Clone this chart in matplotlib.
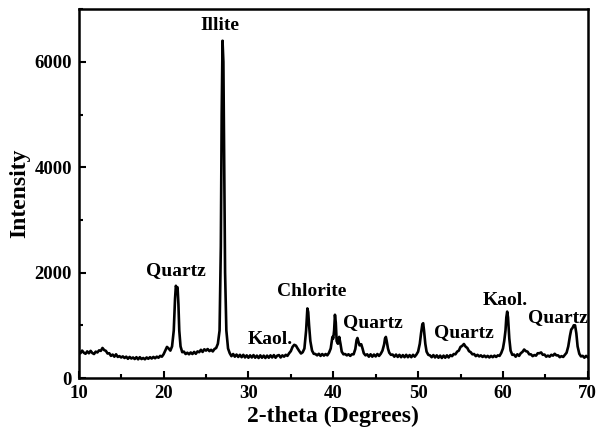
import matplotlib
matplotlib.use("Agg")
import matplotlib.pyplot as plt
from matplotlib.ticker import MultipleLocator

two_theta = [
    10.0, 10.2, 10.4, 10.6, 10.8, 11.0, 11.2, 11.4, 11.6, 11.8, 12.0, 12.2, 12.4, 12.6, 12.8, 13.0,
    13.2, 13.4, 13.6, 13.8, 14.0, 14.2, 14.4, 14.6, 14.8, 15.0, 15.2, 15.4, 15.6, 15.8, 16.0, 16.2,
    16.4, 16.6, 16.8, 17.0, 17.2, 17.4, 17.6, 17.8, 18.0, 18.2, 18.4, 18.6, 18.8, 19.0, 19.2, 19.4,
    19.6, 19.8, 20.0, 20.2, 20.4, 20.6, 20.8, 21.0, 21.2, 21.35, 21.45, 21.55, 21.65, 21.75, 21.85,
    22.0, 22.2, 22.4, 22.6, 22.8, 23.0, 23.2, 23.4, 23.6, 23.8, 24.0, 24.2, 24.4, 24.6, 24.8, 25.0,
    25.2, 25.4, 25.6, 25.8, 26.0, 26.2, 26.4, 26.6, 26.75, 26.85, 26.95, 27.05, 27.15, 27.25, 27.4,
    27.6, 27.8, 28.0, 28.2, 28.4, 28.6, 28.8, 29.0, 29.2, 29.4, 29.6, 29.8, 30.0, 30.2, 30.4, 30.6,
    30.8, 31.0, 31.2, 31.4, 31.6, 31.8, 32.0, 32.2, 32.4, 32.6, 32.8, 33.0, 33.2, 33.4, 33.6, 33.8,
    34.0, 34.2, 34.4, 34.6, 34.8, 35.0, 35.2, 35.4, 35.6, 35.8, 36.0, 36.2, 36.4, 36.6, 36.8, 36.95,
    37.05, 37.15, 37.3, 37.5, 37.7, 37.9, 38.1, 38.3, 38.5, 38.7, 38.9, 39.1, 39.3, 39.5, 39.7, 39.9,
    40.0, 40.1, 40.2, 40.3, 40.4, 40.55, 40.7, 40.85, 41.0, 41.2, 41.4, 41.6, 41.8, 42.0, 42.2, 42.4,
    42.6, 42.75, 42.85, 42.95, 43.1, 43.3, 43.45, 43.6, 43.8, 44.0, 44.2, 44.4, 44.6, 44.8, 45.0,
    45.2, 45.4, 45.6, 45.8, 46.0, 46.1, 46.2, 46.3, 46.45, 46.6, 46.8, 47.0, 47.2, 47.4, 47.6, 47.8,
    48.0, 48.2, 48.4, 48.6, 48.8, 49.0, 49.2, 49.4, 49.6, 49.8, 50.0, 50.2, 50.35, 50.5, 50.6, 50.7,
    50.85, 51.0, 51.2, 51.4, 51.6, 51.8, 52.0, 52.2, 52.4, 52.6, 52.8, 53.0, 53.2, 53.4, 53.6, 53.8,
    54.0, 54.2, 54.4, 54.6, 54.8, 55.0, 55.2, 55.4, 55.6, 55.8, 56.0, 56.2, 56.4, 56.6, 56.8, 57.0,
    57.2, 57.4, 57.6, 57.8, 58.0, 58.2, 58.4, 58.6, 58.8, 59.0, 59.2, 59.4, 59.6, 59.8, 60.0, 60.15,
    60.3, 60.4, 60.5, 60.6, 60.75, 60.9, 61.1, 61.3, 61.5, 61.7, 61.9, 62.1, 62.3, 62.5, 62.7, 62.9,
    63.1, 63.3, 63.5, 63.7, 63.9, 64.1, 64.3, 64.5, 64.7, 64.9, 65.1, 65.3, 65.5, 65.7, 65.9, 66.1,
    66.3, 66.5, 66.7, 66.9, 67.1, 67.3, 67.5, 67.7, 67.9, 68.05, 68.2, 68.35, 68.5, 68.65, 68.8, 69.0,
    69.2, 69.4, 69.6, 69.8, 70.0,
]

intensity = [
    510, 470, 520, 480, 460, 505, 470, 515, 475, 455, 500, 485, 525, 515, 570, 530,
    515, 465, 470, 420, 445, 405, 450, 400, 415, 390, 410, 380, 405, 365, 400, 370,
    390, 360, 395, 355, 395, 360, 380, 355, 390, 365, 395, 370, 400, 375, 405, 385,
    420, 405, 450, 520, 590, 560, 520, 600, 900, 1500, 1750, 1700, 1720, 1400, 900,
    600, 490, 500, 455, 480, 450, 485, 455, 495, 460, 505, 490, 535, 495, 545, 520,
    550, 510, 535, 505, 550, 570, 650, 900, 2500, 5000, 6400, 6000, 4000, 2000, 900,
    560, 470, 415, 455, 405, 445, 400, 440, 395, 440, 390, 430, 385, 430, 390, 435,
    385, 425, 380, 430, 385, 425, 380, 425, 385, 430, 390, 435, 385, 425, 435, 390,
    430, 405, 440, 420, 470, 510, 590, 630, 615, 560, 510, 465, 490, 560, 900, 1320,
    1250, 1000, 700, 520, 460, 455, 430, 460, 420, 455, 425, 455, 430, 480, 560, 780,
    750, 900, 1200, 1050, 700, 650, 780, 650, 500, 450, 455, 430, 450, 420, 450, 450,
    550, 720, 760, 700, 620, 640, 560, 470, 430, 450, 405, 450, 405, 445, 410,
    455, 420, 460, 520, 640, 750, 780, 700, 560, 480, 440, 445, 405, 445, 400, 440,
    395, 435, 395, 440, 395, 435, 395, 440, 405, 445, 500, 650, 850, 1020, 1040, 900,
    650, 500, 440, 430, 395, 435, 390, 430, 385, 425, 380, 425, 385, 430, 390, 435,
    415, 455, 450, 500, 520, 590, 610, 645, 595, 570, 510, 490, 450, 455, 415, 440,
    410, 430, 400, 425, 395, 420, 390, 420, 395, 425, 400, 430, 420, 475, 560, 700,
    900, 1150, 1260, 1150, 750, 520, 440, 445, 405, 450, 420, 470, 495, 540, 510, 500,
    450, 450, 415, 435, 425, 470, 470, 485, 440, 445, 405, 425, 405, 440, 425, 460,
    430, 430, 395, 415, 400, 440, 480, 600, 800, 920, 950, 1000, 1000, 850, 600, 460,
    410, 420, 385, 420, 395,
]

peak_labels = ["Illite", "Quartz", "Kaol.", "Chlorite", "Quartz", "Quartz", "Kaol.", "Quartz"]
label_x = [26.62, 21.43, 32.6, 37.47, 44.62, 55.39, 60.22, 66.47]
label_y = [6600, 1960, 650, 1550, 965, 780, 1390, 1070]

plt.rcParams['font.family'] = ['Liberation Serif', 'DejaVu Serif']
plt.rcParams['font.weight'] = 'bold'

fig = plt.figure(figsize=(6.01, 4.34), dpi=100)
ax = fig.add_axes([0.131, 0.129, 0.847, 0.850])
ax.plot(two_theta, intensity, color='black', lw=1.9)

for t, xx, yy in zip(peak_labels, label_x, label_y):
    ax.text(xx, yy, t, ha='center', va='baseline', fontsize=14, fontweight='bold')

ax.set_xlim(10, 70)
ax.set_ylim(0, 7000)
ax.xaxis.set_major_locator(MultipleLocator(10))
ax.xaxis.set_minor_locator(MultipleLocator(5))
ax.yaxis.set_major_locator(MultipleLocator(2000))
ax.yaxis.set_minor_locator(MultipleLocator(1000))
ax.tick_params(direction='in', which='both', top=False, right=False, width=1.5)
ax.tick_params(which='major', length=5, labelsize=13.5, pad=5)
ax.tick_params(which='minor', length=3)
for lab in ax.get_xticklabels() + ax.get_yticklabels():
    lab.set_fontweight('bold')
for s in ax.spines.values():
    s.set_linewidth(1.8)

ax.set_xlabel('2-theta (Degrees)', fontsize=17, fontweight='bold', labelpad=3)
ax.set_ylabel('Intensity', fontsize=17, fontweight='bold', labelpad=3)

fig.savefig('out.png', dpi=100)
